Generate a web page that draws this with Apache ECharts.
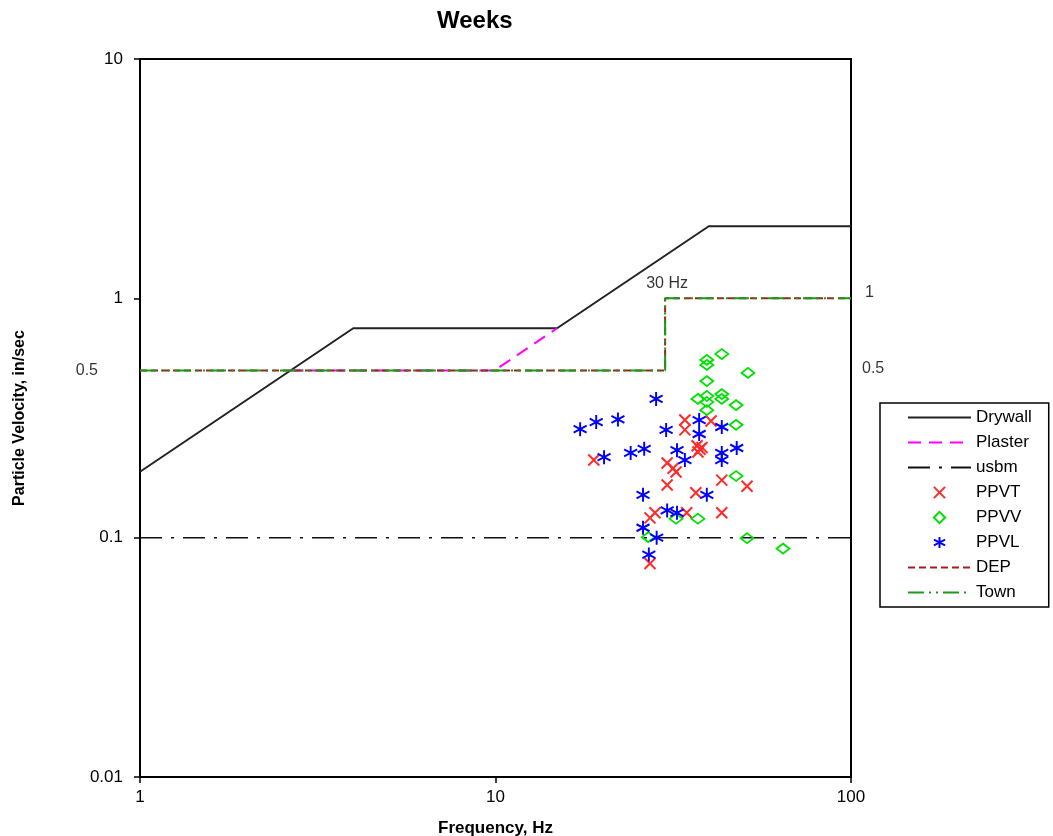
<!DOCTYPE html>
<html><head><meta charset="utf-8">
<script src="https://cdn.jsdelivr.net/npm/echarts@6/dist/echarts.min.js"></script>
<style>html,body{margin:0;padding:0;background:#fff}#c{width:1053px;height:836px}</style>
</head><body><div id="c"></div>
<script>
const chartTitle = 'Weeks';
const xName = 'Frequency, Hz';
const yName = 'Particle Velocity, in/sec';
const seriesNames = ['Drywall','Plaster','usbm','PPVT','PPVV','PPVL','DEP','Town'];

const drywall = [[1,0.1885],[3.98,0.75],[14.9,0.75],[39.8,2],[100,2]];
const plaster = [[2.65,0.5],[9.95,0.5],[14.9,0.75]];
const usbm = [[1,0.1],[100,0.1]];
const dep = [[1,0.5],[30,0.5],[30,1],[100,1]];
const town = [[1,0.5],[30,0.5],[30,1],[100,1]];

const ppvt = [
  [18.9,0.211],[34.1,0.310],[34.1,0.282],[40.4,0.307],
  [36.9,0.242],[38.1,0.238],[37.1,0.228],[37.6,0.234],
  [30.4,0.205],[31.6,0.195],[32.2,0.188],[30.4,0.166],
  [43.3,0.174],[51.0,0.164],[36.6,0.154],[28.1,0.127],
  [27.2,0.121],[34.5,0.127],[43.3,0.127],[27.2,0.078]
];
const ppvv = [
  [43.3,0.585],[39.3,0.553],[39.3,0.527],[51.3,0.488],[39.3,0.451],
  [37.1,0.380],[39.3,0.391],[39.3,0.369],[39.3,0.341],[43.3,0.398],
  [43.3,0.380],[47.5,0.358],[47.5,0.296],[47.5,0.181],[37.1,0.120],
  [32.2,0.120],[26.9,0.1005],[51.0,0.0995],[64.4,0.090]
];
const ppvl = [
  [17.3,0.284],[19.2,0.304],[20.2,0.217],[22.1,0.312],[24.0,0.226],
  [26.2,0.235],[28.3,0.380],[30.2,0.282],[26.0,0.151],[26.0,0.110],
  [27.0,0.085],[28.4,0.100],[30.4,0.130],[32.4,0.127],[32.4,0.232],
  [34.1,0.211],[37.4,0.310],[37.4,0.271],[39.3,0.151],[43.3,0.290],
  [43.3,0.226],[43.3,0.211],[47.7,0.237]
];

const annotations = [[30,1,'30 Hz'],[100,1,'1'],[100,0.5,'0.5'],[1,0.5,'0.5']];
const annotLabelStyles = [
  {position:'top', distance:7, offset:[2,0], fontSize:16},
  {position:'right', distance:14, offset:[0,-6], fontSize:16},
  {position:'right', distance:11, offset:[0,-2], fontSize:16},
  {position:'left', distance:42, offset:[0,0], fontSize:16}
];

const xSym = 'path://M0,0L10,10M0,10L10,0';
const astSym = 'path://M5,0L5,12M0,3L10,9M0,9L10,3';

function lineSeries(name, data, color, width, type) {
  return {name, type:'line', data, symbol:'circle', symbolSize:0, showSymbol:false, silent:true,
    lineStyle:{color, width, type},
    itemStyle:{color:'rgba(0,0,0,0)', borderColor:'rgba(0,0,0,0)', borderWidth:0},
    animation:false, z:2};
}
function markSeries(name, data, color, symbol, size, bw) {
  return {name, type:'line', data, symbol, symbolSize:size, showSymbol:true, showAllSymbol:true,
    silent:true, animation:false,
    lineStyle:{width:0, opacity:0, color:color},
    itemStyle:{color:'rgba(0,0,0,0)', borderColor:color, borderWidth:bw}, z:3};
}

const chart = echarts.init(document.getElementById('c'), null, {renderer:'canvas'});
chart.setOption({
  animation:false,
  backgroundColor:'#fff',
  title:{text:chartTitle, left:432, top:4,
    textStyle:{fontFamily:'Liberation Sans, Arial', fontSize:24, fontWeight:'bold', color:'#000'}},
  grid:{left:140, right:202, top:59, bottom:59, show:true, borderColor:'#000', borderWidth:2,
    outerBoundsMode:'none', containLabel:false},
  legend:{
    data:seriesNames, orient:'vertical', left:880, top:403,
    itemWidth:63, itemHeight:14, itemGap:8,
    padding:[6,17,6,27],
    borderColor:'#000', borderWidth:1.5, backgroundColor:'#fff',
    textStyle:{fontFamily:'Liberation Sans, Arial', fontSize:17, color:'#000'},
    itemStyle:{borderWidth:2},
    lineStyle:{width:2},
    selectedMode:false
  },
  xAxis:{type:'log', logBase:10, min:1, max:100,
    name:xName, nameLocation:'middle', nameGap:43,
    nameTextStyle:{fontFamily:'Liberation Sans, Arial', fontSize:17, fontWeight:'bold', color:'#000'},
    axisLine:{lineStyle:{color:'#000', width:2}},
    axisTick:{length:6, lineStyle:{color:'#000', width:1.5}},
    axisLabel:{fontFamily:'Liberation Sans, Arial', fontSize:17, color:'#000', margin:12},
    splitLine:{show:false}, minorTick:{show:false}},
  yAxis:{type:'log', logBase:10, min:0.01, max:10,
    name:yName, nameLocation:'middle', nameGap:112, nameRotate:90,
    nameTextStyle:{fontFamily:'Liberation Sans, Arial', fontSize:16, fontWeight:'bold', color:'#000'},
    axisLine:{lineStyle:{color:'#000', width:2}},
    axisTick:{length:6, lineStyle:{color:'#000', width:1.5}},
    axisLabel:{fontFamily:'Liberation Sans, Arial', fontSize:17, color:'#000', margin:17},
    splitLine:{show:false}},
  series:[
    lineSeries('Drywall', drywall, '#222', 2, 'solid'),
    lineSeries('Plaster', plaster, '#ff00ff', 2, [13,8]),
    lineSeries('usbm', usbm, '#111', 1.5, [22,9,3,9]),
    markSeries('PPVT', ppvt, '#ff2a2a', xSym, [11,11], 2),
    markSeries('PPVV', ppvv, '#00e000', 'diamond', [13,10], 1.8),
    markSeries('PPVL', ppvl, '#0000ff', astSym, [13,14], 2),
    lineSeries('DEP', dep, '#a02020', 2, [7,4]),
    lineSeries('Town', town, '#1a9a1a', 2, [16,5,2,5,2,5]),
    {name:'annot', type:'scatter', silent:true, animation:false, symbolSize:0,
      data:annotations.map((a,i)=>({value:[a[0],a[1]], label:Object.assign({show:true,
        formatter:a[2], color:'#000', fontFamily:'Liberation Sans, Arial'}, annotLabelStyles[i])})),
      z:5}
  ]
});
</script></body></html>
